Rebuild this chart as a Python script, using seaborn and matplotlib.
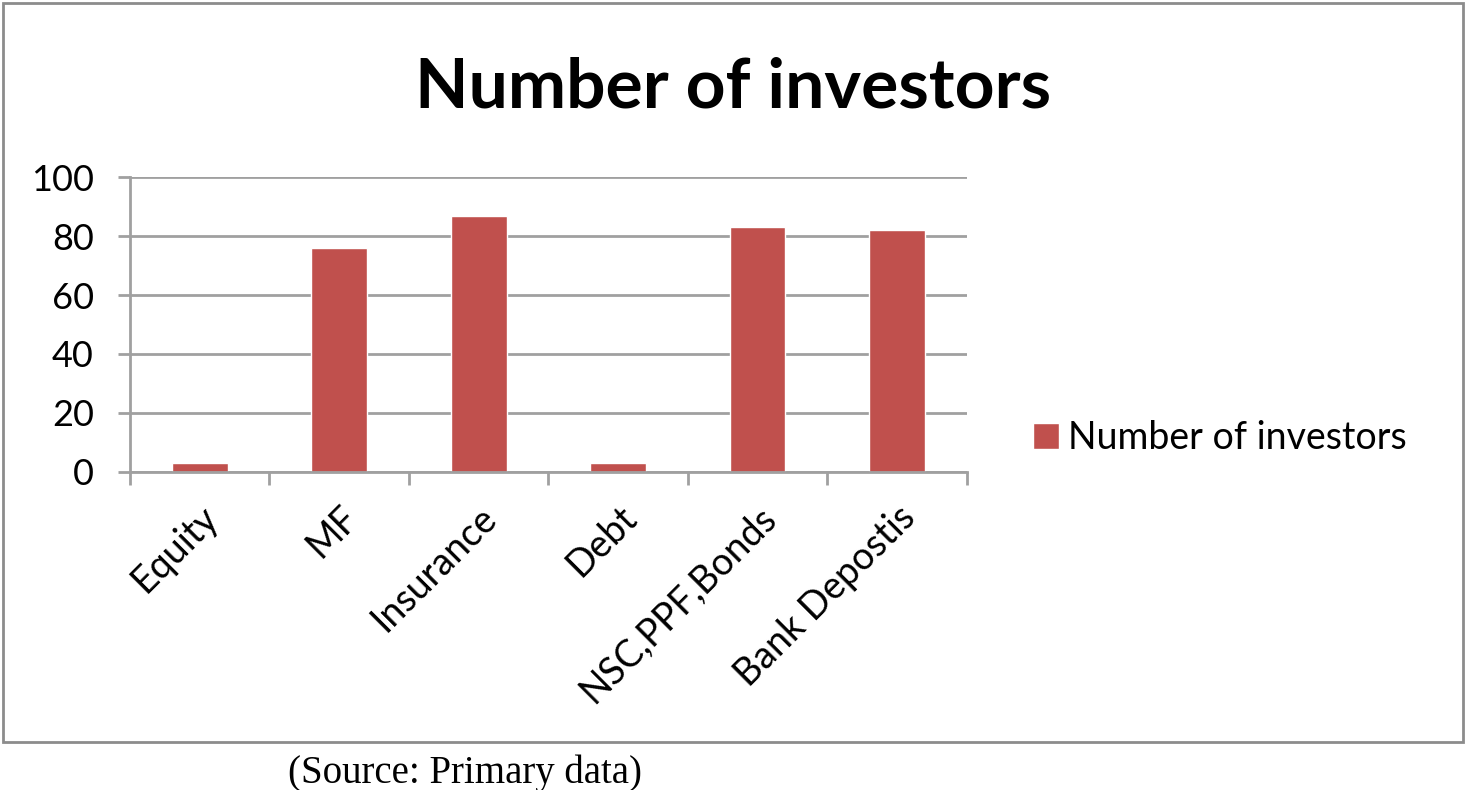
import matplotlib
matplotlib.use("Agg")
import matplotlib.pyplot as plt
import numpy as np
import pandas as pd
import seaborn as sns
from matplotlib.patches import Rectangle

categories = ["Equity", "MF", "Insurance", "Debt", "NSC,PPF,Bonds", "Bank Depostis"]
investors = [3, 76, 87, 3, 83, 82]
series_name = "Number of investors"
y_ticks = [0, 20, 40, 60, 80, 100]

bar_color = "#C0504D"
grid_color = "#A0A0A0"

df = pd.DataFrame({"category": categories, "count": investors, "series": series_name})

sns.set_theme(style="white")
plt.rcParams["font.family"] = ["Lato", "DejaVu Sans"]
plt.rcParams["text.color"] = "black"
plt.rcParams["xtick.labelcolor"] = "black"
plt.rcParams["ytick.labelcolor"] = "black"

fig = plt.figure(figsize=(14.67, 7.90), dpi=100)
ax = fig.add_axes([130 / 1467, 1 - 471.7 / 790, (966.7 - 130) / 1467, (471.7 - 177.3) / 790])

sns.barplot(data=df, x="category", y="count", hue="series", palette=[bar_color],
            width=0.4, saturation=1, ax=ax)

ax.set_ylim(0, 100)
ax.set_xlim(-0.5, len(categories) - 0.5)
ax.set_yticks(y_ticks)
ax.yaxis.grid(True, color=grid_color, linewidth=2)
ax.set_axisbelow(True)
ax.set_xlabel("")
ax.set_ylabel("")

for side in ["top", "right"]:
    ax.spines[side].set_visible(False)
for side in ["left", "bottom"]:
    ax.spines[side].set_color(grid_color)
    ax.spines[side].set_linewidth(2)

# category boundary ticks like the original
ax.set_xticks(np.arange(-0.5, len(categories)), minor=True)
ax.tick_params(axis="x", which="minor", length=9.5, width=2, color=grid_color, direction="out", bottom=True)
ax.tick_params(axis="x", which="major", length=0, pad=20, labelsize=27, labelcolor="black")
ax.tick_params(axis="y", length=9, width=2, color=grid_color, direction="out", left=True,
               pad=17, labelsize=26, labelcolor="black")
for lbl in ax.get_xticklabels():
    lbl.set_rotation(45)
    lbl.set_ha("right")
    lbl.set_rotation_mode("anchor")

ax.legend(loc="center left", bbox_to_anchor=(999 / 1467, 1 - 438 / 790),
          bbox_transform=fig.transFigure, frameon=False, fontsize=27,
          handlelength=0.7, handleheight=0.7, handletextpad=0.25)

fig.suptitle("Number of investors", x=0.5, y=1 - 88 / 790, va="center",
             fontsize=50, fontweight="bold", color="black")

fig.patches.append(Rectangle((3 / 1467, 1 - 742 / 790), 1460 / 1467, 739 / 790,
                             transform=fig.transFigure, fill=False,
                             edgecolor="#8C8C8C", linewidth=2))

fig.text(465 / 1467, 1 - 773 / 790, "(Source: Primary data)", ha="center", va="center",
         fontsize=28, color="black", family=["Liberation Serif", "DejaVu Serif"])

fig.savefig("out.png", dpi=100, facecolor="white")
